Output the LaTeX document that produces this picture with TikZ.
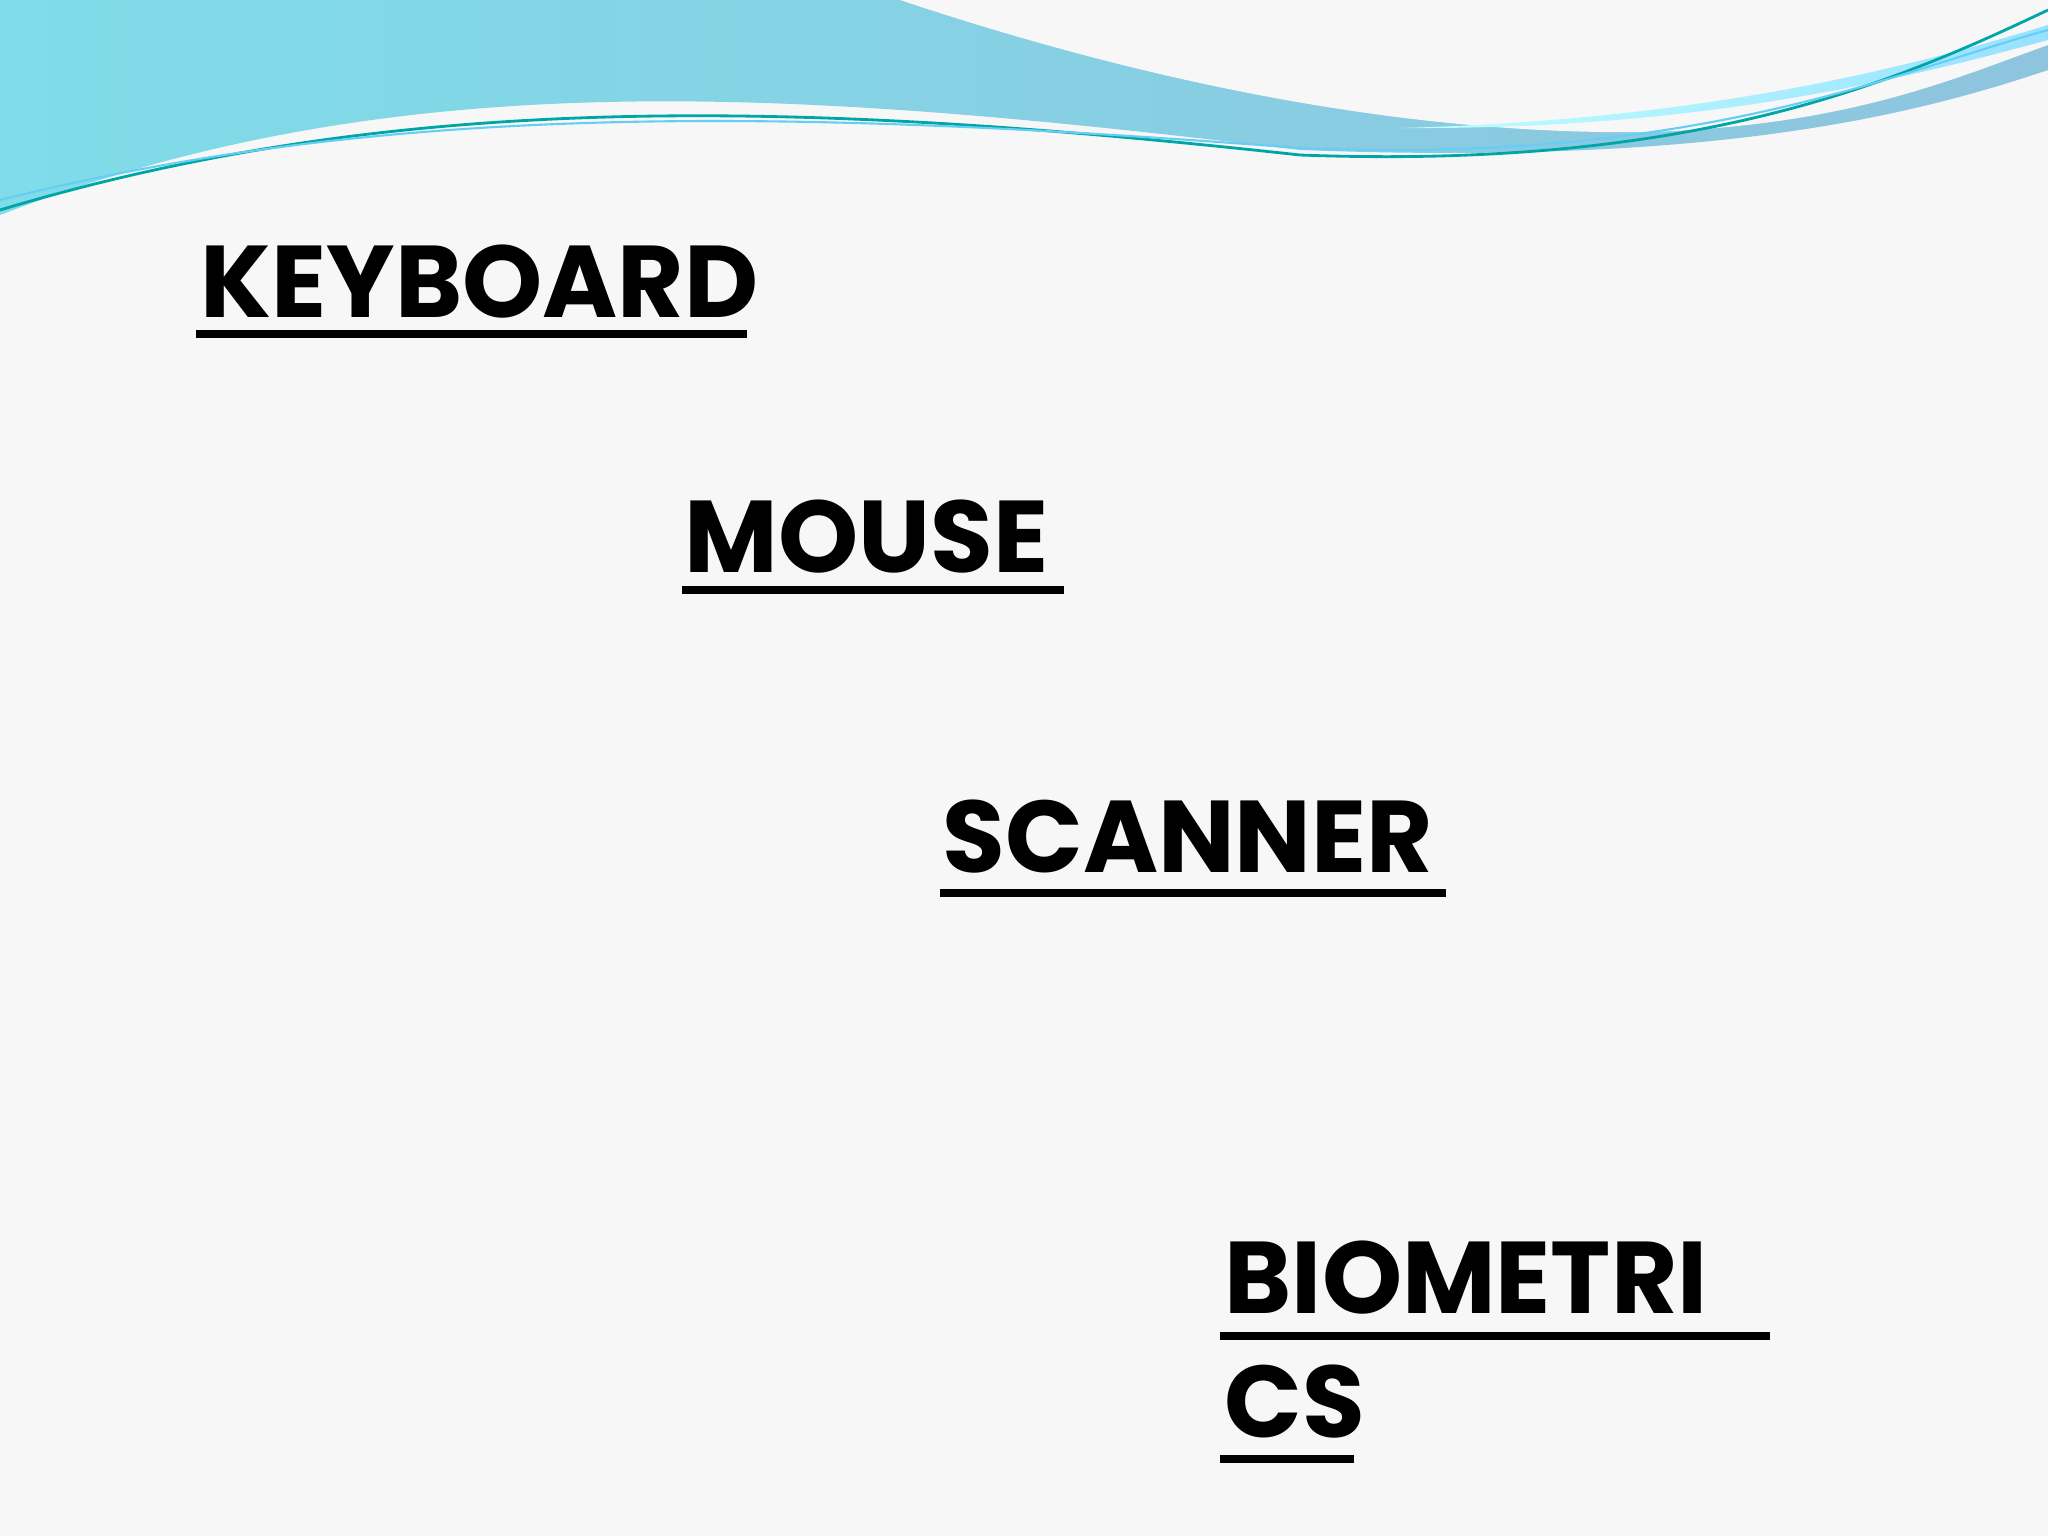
\documentclass[tikz,border=0pt]{standalone}
\usepackage{fontspec}
\setmainfont{Poppins}
\usetikzlibrary{shadings}
\definecolor{bg}{HTML}{F7F7F7}
\definecolor{wl}{HTML}{7FDCE8}
\definecolor{wr}{HTML}{8EC4DE}
\tikzset{word/.style={anchor=base west,inner sep=0pt,font=\fontsize{29}{34}\selectfont\bfseries},
uline/.style={line width=2.3pt,black}}
\begin{document}
\begin{tikzpicture}[yscale=-1,x=0.01cm,y=0.01cm]
\useasboundingbox (0,0) rectangle (2048,1536);
\fill[bg] (0,0) rectangle (2048,1536);
% top wave
\shade[left color=wl,right color=wr]
 (0,0) -- (0,215) .. controls (400,60) and (800,90) .. (1300,150) .. controls (1700,165) and (1900,120) .. (2048,70) -- (2048,0) -- cycle;
\fill[bg] (900,0) .. controls (1200,100) and (1450,135) .. (1650,132) .. controls (1850,125) and (1950,80) .. (2048,45) -- (2048,0) -- cycle;
\shade[left color=cyan!25!white,right color=blue!30!cyan!40!white] (1400,128) .. controls (1700,130) and (1900,80) .. (2048,40) -- (2048,25) .. controls (1900,70) and (1700,120) .. (1400,128);
\draw[teal!70!cyan,line width=0.8pt] (0,210) .. controls (400,90) and (800,100) .. (1300,155) .. controls (1700,170) and (1900,80) .. (2048,10);
\draw[cyan!60!white,line width=0.6pt] (0,200) .. controls (400,100) and (800,110) .. (1300,148) .. controls (1700,165) and (1900,70) .. (2048,30);
% words
\node[word] (kb) at (200,317) {KEYBOARD};
\draw[uline] (196,334) -- (747,334);
\node[word] (ms) at (684,572) {MOUSE};
\draw[uline] (682,590) -- (1064,590);
\node[word] (sc) at (942,872) {SCANNER};
\draw[uline] (940,893) -- (1446,893);
\node[word] (bi) at (1224,1313) {BIOMETRI};
\draw[uline] (1220,1336) -- (1770,1336);
\node[word] (cs) at (1224,1437) {CS};
\draw[uline] (1220,1459) -- (1354,1459);
\end{tikzpicture}
\end{document}
